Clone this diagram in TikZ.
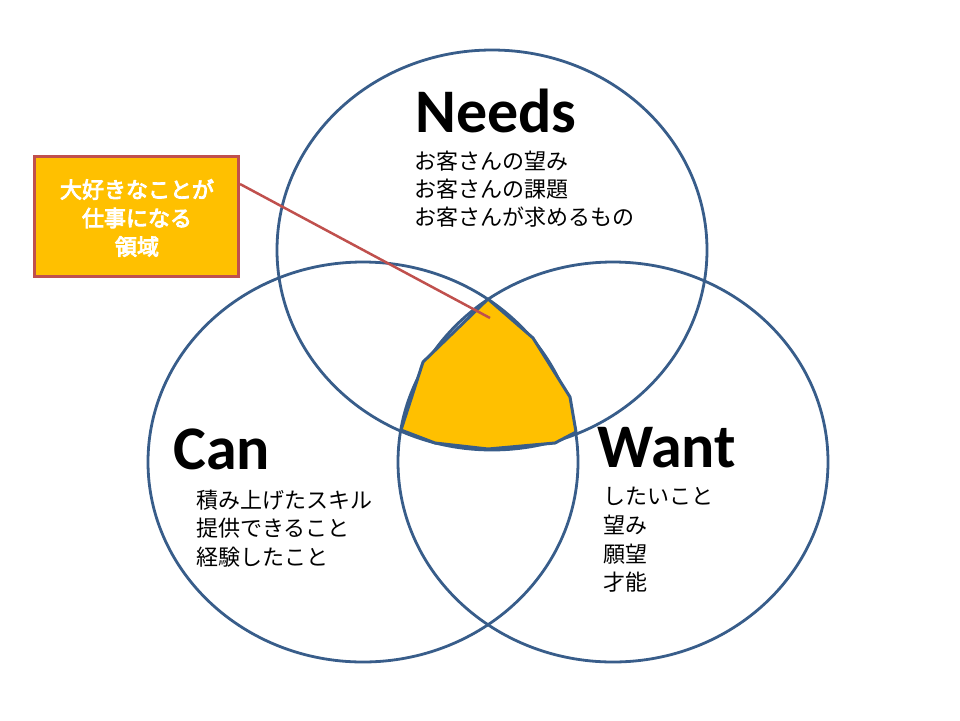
\documentclass[tikz,border=0pt]{standalone}
\usepackage{fontspec}
\setmainfont{Carlito}
\newfontfamily\cjk{Noto Sans CJK JP}
\newfontfamily\cjkbold{Noto Sans CJK JP}[FakeBold=4]
\definecolor{cblue}{RGB}{56,93,138}
\definecolor{corange}{RGB}{255,192,0}
\definecolor{cred}{RGB}{192,80,77}
\begin{document}
\begin{tikzpicture}[x=1pt,y=-1pt,
  venn/.style={draw=cblue,line width=2.8pt},
  title/.style={font=\fontsize{62}{62}\selectfont\bfseries,inner sep=0pt,anchor=base west},
  item/.style={font=\cjk\fontsize{22}{22}\selectfont,inner sep=0pt,anchor=west},
  callout/.style={draw=cred,line width=3pt,fill=corange,minimum width=204pt,minimum height=120pt,inner sep=0pt},
  leader/.style={draw=cred,line width=2.5pt}]
\useasboundingbox[fill=white] (0,0) rectangle (960,720);
% circles
\draw[venn] (492,250) ellipse [x radius=215pt, y radius=200pt];
\draw[venn] (363,462) ellipse [x radius=215pt, y radius=200pt];
\draw[venn] (613,462) ellipse [x radius=215pt, y radius=200pt];
% central region
\draw[draw=cblue,line width=3pt,fill=corange,line join=round]
  (488,299) -- (423,362) -- (401,430) -- (435,443) -- (488,449) -- (555,443)
  -- (576,432) -- (570,397) -- (533,338) -- cycle;
% titles
\node[title] (needs) at (415,132) {Needs};
\node[title] (can) at (173,469) {Can};
\node[title] (want) at (597,467) {Want};
% items
\node[item] (n1) at (414,161) {お客さんの望み};
\node[item] (n2) at (414,189) {お客さんの課題};
\node[item] (n3) at (414,217) {お客さんが求めるもの};
\node[item] (c1) at (196,500) {積み上げたスキル};
\node[item] (c2) at (196,528) {提供できること};
\node[item] (c3) at (196,557) {経験したこと};
\node[item] (w1) at (603,496) {したいこと};
\node[item] (w2) at (603,525) {望み};
\node[item] (w3) at (603,554) {願望};
\node[item] (w4) at (603,582) {才能};
% callout
\node[callout] (box) at (136.5,216.5) {};
\node[font=\cjkbold\fontsize{22}{28.5}\selectfont,text=white,align=center,inner sep=0pt] (boxtext) at (137,218)
  {大好きなことが\\仕事になる\\領域};
\coordinate (ls) at (240,184);
\coordinate (le) at (490,318);
\draw[leader] (ls) -- (le);
\end{tikzpicture}
\end{document}
